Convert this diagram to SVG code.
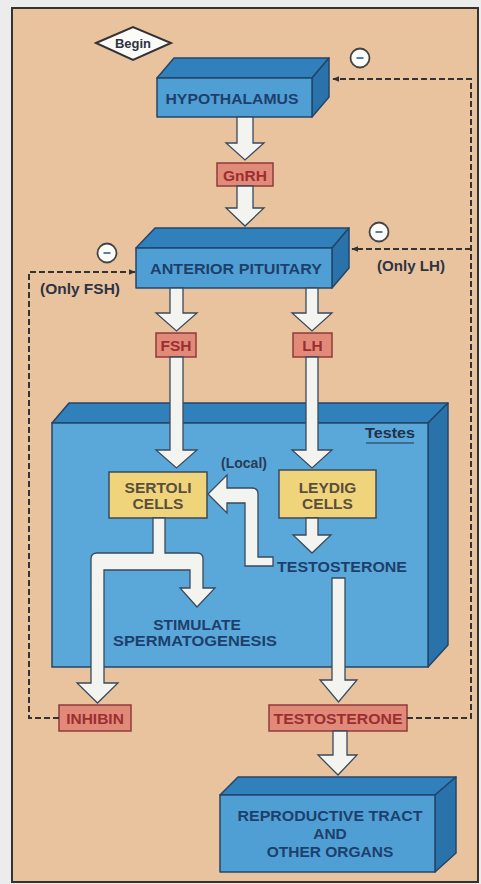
<svg xmlns="http://www.w3.org/2000/svg" width="481" height="884" viewBox="0 0 481 884">
<defs>
<style>
.t{font-family:"Liberation Sans",Arial,sans-serif;font-weight:bold;font-size:15.5px;text-anchor:middle;dominant-baseline:central}
.blue{fill:#1e3f6c}
.red{fill:#9b2f2f}
.ylw{fill:#5a4e3c}
.dark{fill:#2e3344}
.front{fill:#4f9fd4;stroke:#24456a;stroke-width:1.5;stroke-linejoin:round}
.top{fill:#2f80bb;stroke:#24456a;stroke-width:1.5;stroke-linejoin:round}
.side{fill:#2a72aa;stroke:#24456a;stroke-width:1.5;stroke-linejoin:round}
.tfront{fill:#5aa8d9;stroke:#24456a;stroke-width:1.5}
.rbox{fill:#e28a7a;stroke:#8e3b3b;stroke-width:1.5}
.ybox{fill:#f0d47c;stroke:#3c4a55;stroke-width:1.5}
.warrow{fill:#f3f3ef;stroke:#3a4a5c;stroke-width:1.3;stroke-linejoin:miter}
.dash{fill:none;stroke:#333;stroke-width:2;stroke-dasharray:6 3}
.minus{fill:#fbfbf8;stroke:#444;stroke-width:1.8}
.mbar{stroke:#5b7fa3;stroke-width:2}
</style>
<marker id="ah" viewBox="0 0 10 10" refX="9" refY="5" markerWidth="7" markerHeight="7" orient="auto-start-reverse" markerUnits="userSpaceOnUse">
<path d="M0,1 L10,5 L0,9 Z" fill="#333"/>
</marker>
</defs>
<rect x="0" y="0" width="481" height="884" fill="#ececec"/>
<rect x="12" y="8" width="466" height="874" fill="#e8c39e" stroke="#333" stroke-width="2"/>

<g id="begin">
<polygon points="96,43 133,27 171,43 133,60" fill="#fbfbf8" stroke="#333" stroke-width="2"/>
<text class="t dark" x="133" y="43" style="font-size:13.5px" textLength="36" lengthAdjust="spacingAndGlyphs">Begin</text>
</g>

<g id="hypothalamus">
<polygon class="top" points="157,78 174,58 329,58 312,78"/>
<polygon class="side" points="312,78 329,58 329,97 312,117"/>
<rect class="front" x="157" y="78" width="155" height="39"/>
<text class="t blue" x="232" y="98" textLength="133" lengthAdjust="spacingAndGlyphs">HYPOTHALAMUS</text>
</g>

<g id="minus1"><circle class="minus" cx="360" cy="58" r="9.5"/><line class="mbar" x1="356.5" y1="58" x2="363.5" y2="58"/></g>
<g id="minus2"><circle class="minus" cx="379" cy="232" r="9.5"/><line class="mbar" x1="375.5" y1="232" x2="382.5" y2="232"/></g>
<g id="minus3"><circle class="minus" cx="107" cy="253" r="9.5"/><line class="mbar" x1="103.5" y1="253" x2="110.5" y2="253"/></g>

<g id="gnrh">
<rect class="rbox" x="217" y="163" width="56" height="23"/>
<text class="t red" x="245" y="175">GnRH</text>
</g>

<g id="anterior-pituitary">
<polygon class="top" points="136,248 155,228 349,228 332,248"/>
<polygon class="side" points="332,248 349,228 349,268 332,288"/>
<rect class="front" x="136" y="248" width="196" height="40"/>
<text class="t blue" x="236" y="268" textLength="172" lengthAdjust="spacingAndGlyphs">ANTERIOR PITUITARY</text>
</g>

<g id="label-only-lh"><text class="t dark" x="411" y="265" textLength="68" lengthAdjust="spacingAndGlyphs">(Only LH)</text></g>
<g id="label-only-fsh"><text class="t dark" x="80" y="288" textLength="80" lengthAdjust="spacingAndGlyphs">(Only FSH)</text></g>

<g id="fsh">
<rect class="rbox" x="156" y="333" width="40" height="24"/>
<text class="t red" x="176" y="345">FSH</text>
</g>
<g id="lh">
<rect class="rbox" x="293" y="333" width="39" height="24"/>
<text class="t red" x="312.5" y="345">LH</text>
</g>

<g id="testes">
<polygon class="top" points="52,423 69,403 448,403 428,423"/>
<polygon class="side" points="428,423 448,403 448,645 428,667"/>
<rect class="tfront" x="52" y="423" width="376" height="244"/>
<text class="t" x="390" y="432" style="fill:#22304a" textLength="50" lengthAdjust="spacingAndGlyphs">Testes</text>
<line x1="366" y1="443" x2="414" y2="443" stroke="#22304a" stroke-width="1.2"/>
</g>

<g id="label-local"><text class="t" x="244" y="463" style="fill:#2a3a5a;font-size:14px">(Local)</text></g>

<g id="sertoli">
<rect class="ybox" x="109" y="472" width="98" height="46"/>
<text class="t ylw" x="158" y="487">SERTOLI</text>
<text class="t ylw" x="158" y="503">CELLS</text>
</g>
<g id="leydig">
<rect class="ybox" x="279" y="470" width="97" height="48"/>
<text class="t ylw" x="327.5" y="487">LEYDIG</text>
<text class="t ylw" x="327.5" y="503">CELLS</text>
</g>

<g id="testosterone-local"><text class="t blue" x="342" y="566" textLength="130" lengthAdjust="spacingAndGlyphs">TESTOSTERONE</text></g>
<g id="spermatogenesis">
<text class="t blue" x="197" y="624">STIMULATE</text>
<text class="t blue" x="195" y="640" textLength="164" lengthAdjust="spacingAndGlyphs">SPERMATOGENESIS</text>
</g>

<g id="inhibin">
<rect class="rbox" x="59" y="705" width="72" height="26"/>
<text class="t red" x="95" y="718">INHIBIN</text>
</g>
<g id="testosterone">
<rect class="rbox" x="269" y="705" width="138" height="26"/>
<text class="t red" x="338" y="718" textLength="129" lengthAdjust="spacingAndGlyphs">TESTOSTERONE</text>
</g>

<g id="reproductive">
<polygon class="top" points="220,795 238,777 456,777 435,795"/>
<polygon class="side" points="435,795 456,777 456,853 435,872"/>
<rect class="front" x="220" y="795" width="215" height="77"/>
<text class="t blue" x="330" y="815" textLength="185" lengthAdjust="spacingAndGlyphs">REPRODUCTIVE TRACT</text>
<text class="t blue" x="330" y="833">AND</text>
<text class="t blue" x="330" y="851">OTHER ORGANS</text>
</g>

<g id="connectors">
<path class="warrow" d="M237,117 L253,117 L253,143 L264,143 L245,160 L226,143 L237,143 Z"/>
<path class="warrow" d="M237,186 L253,186 L253,208 L264,208 L245,226 L226,208 L237,208 Z"/>
<path class="warrow" d="M170,288 L183,288 L183,313 L197,313 L176.5,331 L156,313 L170,313 Z"/>
<path class="warrow" d="M306,288 L318,288 L318,313 L332,313 L312,331 L292,313 L306,313 Z"/>
<path class="warrow" d="M170,357 L183,357 L183,450 L197,450 L176.5,468 L156,450 L170,450 Z"/>
<path class="warrow" d="M306,357 L318,357 L318,450 L332,450 L312,468 L292,450 L306,450 Z"/>
<path class="warrow" d="M306,518 L318,518 L318,535 L331,535 L312,553 L293,535 L306,535 Z"/>
<path class="warrow" d="M273,566 L245,566 L245,503 L227,503 L227,513 L208,494 L227,475 L227,488 L252,488 Q258,488 258,494 L258,557 L273,557 Z"/>
<path class="warrow" d="M153,518 L165,518 L165,553 L197,553 Q203,553 203,559 L203,588 L215,588 L197,607 L180,588 L190,588 L190,570 L104,570 L104,683 L118,683 L97.5,703 L77,683 L91,683 L91,559 Q91,553 97,553 L153,553 Z"/>
<path class="warrow" d="M332,578 L345,578 L345,680 L357,680 L338.5,702 L320,680 L332,680 Z"/>
<path class="warrow" d="M333,731 L347,731 L347,755 L357,755 L338,775 L318,755 L333,755 Z"/>
<path class="dash" d="M407,718 L471,718 L471,79 L333,79" marker-end="url(#ah)"/>
<path class="dash" d="M471,249 L352,249" marker-end="url(#ah)"/>
<path class="dash" d="M59,718 L29,718 L29,272 L135,272" marker-end="url(#ah)"/>
</g>
</svg>
